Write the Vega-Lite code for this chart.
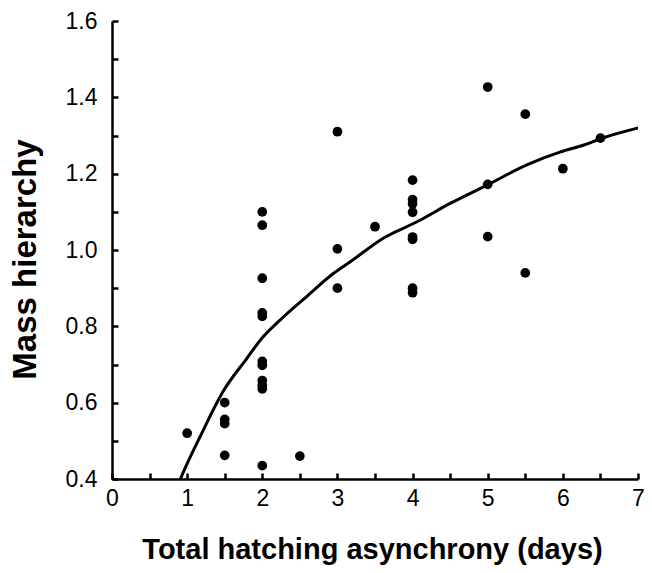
{
  "$schema": "https://vega.github.io/schema/vega-lite/v6.json",
  "width": 526,
  "height": 458,
  "autosize": "none",
  "padding": {"left": 112, "top": 21, "right": 14, "bottom": 94},
  "background": "white",
  "config": {
    "view": {"stroke": null},
    "font": "Liberation Sans",
    "axis": {
      "domainColor": "black",
      "domainWidth": 2.5,
      "tickColor": "black",
      "tickWidth": 2.5,
      "tickOpacity": 1,
      "grid": false,
      "labelFont": "Liberation Sans",
      "labelFontSize": 23,
      "labelColor": "black",
      "titleFont": "Liberation Sans",
      "titleFontWeight": "bold",
      "titleColor": "black"
    }
  },
  "datasets": {
    "pts": [
      {"x": 1, "y": 0.52},
      {"x": 1.5, "y": 0.6},
      {"x": 1.5, "y": 0.556},
      {"x": 1.5, "y": 0.545},
      {"x": 1.5, "y": 0.462},
      {"x": 2, "y": 1.1},
      {"x": 2, "y": 1.065},
      {"x": 2, "y": 0.926},
      {"x": 2, "y": 0.835},
      {"x": 2, "y": 0.826},
      {"x": 2, "y": 0.708},
      {"x": 2, "y": 0.698},
      {"x": 2, "y": 0.658},
      {"x": 2, "y": 0.645},
      {"x": 2, "y": 0.636},
      {"x": 2, "y": 0.435},
      {"x": 2.5, "y": 0.46},
      {"x": 3, "y": 1.31},
      {"x": 3, "y": 1.003},
      {"x": 3, "y": 0.9},
      {"x": 3.5, "y": 1.061},
      {"x": 4, "y": 1.183},
      {"x": 4, "y": 1.132},
      {"x": 4, "y": 1.121},
      {"x": 4, "y": 1.099},
      {"x": 4, "y": 1.034},
      {"x": 4, "y": 1.028},
      {"x": 4, "y": 0.9},
      {"x": 4, "y": 0.888},
      {"x": 5, "y": 1.427},
      {"x": 5, "y": 1.172},
      {"x": 5, "y": 1.035},
      {"x": 5.5, "y": 1.356},
      {"x": 5.5, "y": 0.94},
      {"x": 6, "y": 1.213},
      {"x": 6.5, "y": 1.293}
    ],
    "curve": [
      {"x": 0.91, "y": 0.4},
      {"x": 1.0, "y": 0.44},
      {"x": 1.17, "y": 0.51},
      {"x": 1.48, "y": 0.63},
      {"x": 1.79, "y": 0.715},
      {"x": 2.0, "y": 0.77},
      {"x": 2.24, "y": 0.817},
      {"x": 2.59, "y": 0.878},
      {"x": 2.95, "y": 0.939},
      {"x": 3.17, "y": 0.969},
      {"x": 3.61, "y": 1.031},
      {"x": 4.06, "y": 1.074},
      {"x": 4.5, "y": 1.122},
      {"x": 5.01, "y": 1.172},
      {"x": 5.52, "y": 1.223},
      {"x": 5.97, "y": 1.257},
      {"x": 6.28, "y": 1.275},
      {"x": 6.54, "y": 1.294},
      {"x": 7.03, "y": 1.321}
    ]
  },
  "resolve": {"axis": {"x": "independent", "y": "independent"}},
  "layer": [
    {
      "data": {"name": "curve"},
      "mark": {"type": "line", "color": "black", "strokeWidth": 3, "interpolate": "monotone", "clip": true},
      "encoding": {
        "x": {
          "field": "x",
          "type": "quantitative",
          "scale": {"domain": [0, 7], "nice": false, "zero": false},
          "axis": {
            "orient": "bottom",
            "title": "Total hatching asynchrony (days)",
            "titleFontSize": 29,
            "titleY": 70,
            "titleX": 260,
            "titleBaseline": "middle",
            "values": [0, 1, 2, 3, 4, 5, 6, 7],
            "format": "d",
            "ticks": false,
            "labelPadding": 8,
            "labelFlush": false,
            "labelOverlap": false
          }
        },
        "y": {
          "field": "y",
          "type": "quantitative",
          "scale": {"domain": [0.4, 1.6], "nice": false, "zero": false},
          "axis": {
            "orient": "left",
            "title": "Mass hierarchy",
            "titleFontSize": 33,
            "titleX": -87,
            "titleY": 238,
            "titleBaseline": "middle",
            "values": [0.4, 0.6, 0.8, 1.0, 1.2, 1.4, 1.6],
            "format": ".1f",
            "ticks": false,
            "labelPadding": 15,
            "labelFlush": false,
            "labelOverlap": false
          }
        }
      }
    },
    {
      "data": {"name": "pts"},
      "mark": {"type": "circle", "color": "black", "opacity": 1, "size": 95},
      "encoding": {
        "x": {
          "field": "x",
          "type": "quantitative",
          "scale": {"domain": [0, 7], "nice": false, "zero": false},
          "axis": {
            "orient": "top",
            "offset": -458,
            "title": null,
            "labels": false,
            "domain": false,
            "ticks": true,
            "tickSize": 6,
            "tickOpacity": 1,
            "values": [0, 0.5, 1, 1.5, 2, 2.5, 3, 3.5, 4, 4.5, 5, 5.5, 6, 6.5, 7]
          }
        },
        "y": {
          "field": "y",
          "type": "quantitative",
          "scale": {"domain": [0.4, 1.6], "nice": false, "zero": false},
          "axis": {
            "orient": "right",
            "offset": -526,
            "title": null,
            "labels": false,
            "domain": false,
            "ticks": true,
            "tickSize": 6,
            "tickOpacity": 1,
            "values": [0.4, 0.5, 0.6, 0.7, 0.8, 0.9, 1.0, 1.1, 1.2, 1.3, 1.4, 1.5, 1.6]
          }
        }
      }
    }
  ]
}
